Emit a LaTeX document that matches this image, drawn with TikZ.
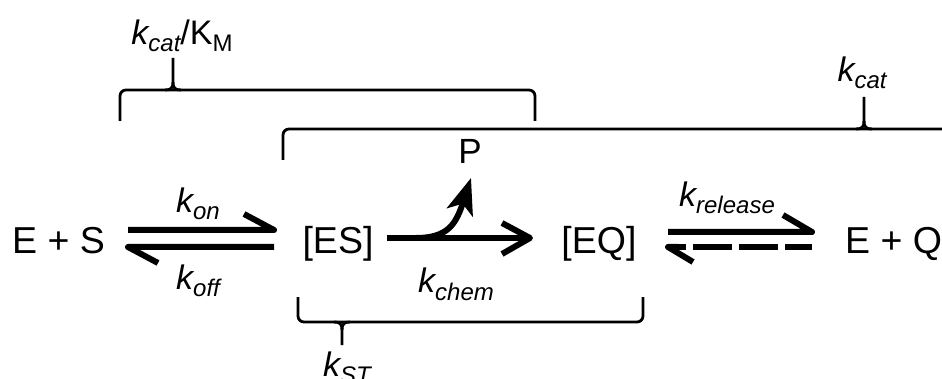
\documentclass[tikz,border=0pt]{standalone}
\usepackage{fontspec}
\setmainfont{Liberation Sans}
\usetikzlibrary{arrows.meta}
% rate constant: italic k with a lowered italic subscript
\newcommand{\ratek}[1]{\textit{k\raisebox{-7pt}{\fontsize{24}{24}\selectfont #1}}}
\begin{document}
\begin{tikzpicture}[x=1pt,y=-1pt,
  species/.style={font=\fontsize{37.5}{40}\selectfont, inner sep=0pt, anchor=base},
  rate/.style={font=\fontsize{34}{40}\selectfont, inner sep=0pt, anchor=base},
  bar/.style={line width=6pt, line cap=butt, line join=round},
  brk/.style={line width=2.8pt, rounded corners=6pt},
  tickline/.style={line width=2.8pt}]
\useasboundingbox (0,0) rectangle (942,379);
\clip (0,0) rectangle (942,379);

% species
\node[species] (es) at (58.5,254) {E + S};
\node[species] (ES) at (338,254) {[ES]};
\node[species] (EQ) at (599,254) {[EQ]};
\node[species, anchor=base west] (eq) at (845,254) {E + Q};
\node[species, font=\fontsize{35}{40}\selectfont] (P) at (470,164) {P};

% rate constants
\node[rate] (kon)   at (198,213) {\ratek{on}};
\node[rate] (koff)  at (198,290) {\ratek{off}};
\node[rate] (kchem) at (456,293) {\ratek{chem}};
\node[rate] (krel)  at (727,207) {\ratek{release}};
\node[rate] (kcat)  at (862,82)  {\ratek{cat}};
\node[rate] (kcatKM) at (182,45) {\ratek{cat}/K\raisebox{-7pt}{\fontsize{24}{24}\selectfont M}};
\node[rate] (kST)   at (347,376) {\ratek{ST}};

% binding equilibrium E + S <=> [ES]
\coordinate (a1s) at (128,230); \coordinate (a1e) at (274,230); \coordinate (a1b) at (244,214);
\coordinate (a2s) at (274,247); \coordinate (a2e) at (128,247); \coordinate (a2b) at (158,263);
\draw[bar] (a1s) -- (a1e) -- (a1b);
\draw[bar] (a2s) -- (a2e) -- (a2b);

% chemical step [ES] -> [EQ]
\coordinate (b1s) at (387,238); \coordinate (b1e) at (530,238);
\coordinate (b1u) at (502,223); \coordinate (b1d) at (502,254);
\draw[bar] (b1s) -- (b1e);
\draw[bar] (b1u) -- (b1e) -- (b1d);

% product release branch to P
\coordinate (p1s) at (416,238); \coordinate (p1e) at (471,178);
\draw[bar, -{Stealth[length=36pt,width=27pt,inset=9pt]}]
  (p1s) .. controls (448,238) and (456,224) .. (p1e);

% release equilibrium [EQ] <=> E + Q
\coordinate (c1s) at (668,232); \coordinate (c1e) at (812,232); \coordinate (c1b) at (783,215);
\coordinate (c2s) at (812,247); \coordinate (c2e) at (668,247); \coordinate (c2b) at (693,262);
\draw[bar] (c1s) -- (c1e) -- (c1b);
\draw[bar, dash pattern=on 27pt off 7pt on 39pt off 7pt on 39pt off 7pt on 30pt] (c2s) -- (c2e);
\draw[bar] (c2b) -- (c2e) -- ++(10,0);

% bracket for kcat/KM
\draw[brk] (120,121) -- (120,90) -- (535,90) -- (535,121);
\draw[tickline] (165,90) .. controls (171,90) and (173,88) .. (173,82) -- (173,58);
\draw[tickline] (181,90) .. controls (175,90) and (173,88) .. (173,82);

% bracket for kcat
\draw[brk] (283,160) -- (283,129) -- (960,129);
\draw[tickline] (856,129) .. controls (862,129) and (864,127) .. (864,121) -- (864,97);
\draw[tickline] (872,129) .. controls (866,129) and (864,127) .. (864,121);

% bracket for kST
\draw[brk] (298,297) -- (298,322) -- (643,322) -- (643,297);
\draw[tickline] (334,322) .. controls (340,322) and (342,324) .. (342,330) -- (342,345);
\draw[tickline] (350,322) .. controls (344,322) and (342,324) .. (342,330);
\end{tikzpicture}
\end{document}
